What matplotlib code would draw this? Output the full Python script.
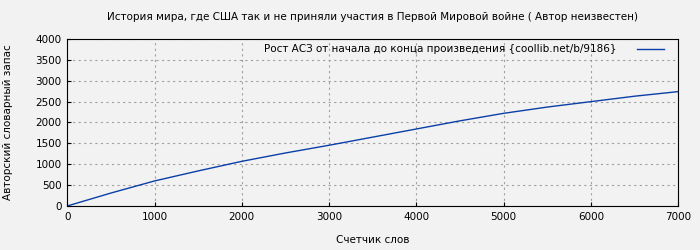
import matplotlib
matplotlib.use("Agg")
import matplotlib.pyplot as plt

# word counter vs vocabulary size
words = [0, 500, 1000, 1500, 2000, 2500, 3000, 3500, 4000, 4500, 5000, 5500, 6000, 6500, 7000]
vocab = [0, 310, 600, 840, 1070, 1270, 1455, 1650, 1845, 2040, 2220, 2370, 2500, 2630, 2740]

title = "История мира, где США так и не приняли участия в Первой Мировой войне ( Автор неизвестен)"
legend_label = "Рост АСЗ от начала до конца произведения {coollib.net/b/9186}"

bg = "#f2f2f2"
plt.rcParams["font.family"] = ["DejaVu Sans"]
plt.rcParams["font.size"] = 7.5

fig = plt.figure(figsize=(7, 2.5), dpi=100, facecolor=bg)
ax = fig.add_axes([0.096, 0.176, 0.873, 0.668])
ax.set_facecolor(bg)

ax.plot(words, vocab, color="#0a3fa8", linewidth=1, label=legend_label)

ax.set_xlim(0, 7000)
ax.set_ylim(0, 4000)
ax.set_xticks(range(0, 7001, 1000))
ax.set_yticks(range(0, 4001, 500))
ax.grid(True, color="#a0a0a0", linestyle=(0, (2, 3)), linewidth=0.8)
ax.tick_params(direction="in", length=3, color="black", pad=4)

ax.set_title(title, fontsize=7.5, pad=14)
ax.set_xlabel("Счетчик слов", labelpad=10)
ax.set_ylabel("Авторский словарный запас", labelpad=16)

leg = ax.legend(loc="upper right", frameon=False, markerfirst=False,
                handlelength=2.6, handletextpad=2.0, borderaxespad=0.1,
                bbox_to_anchor=(0.985, 1.0), fontsize=7.5)

fig.savefig("out.png", dpi=100, facecolor=bg)
